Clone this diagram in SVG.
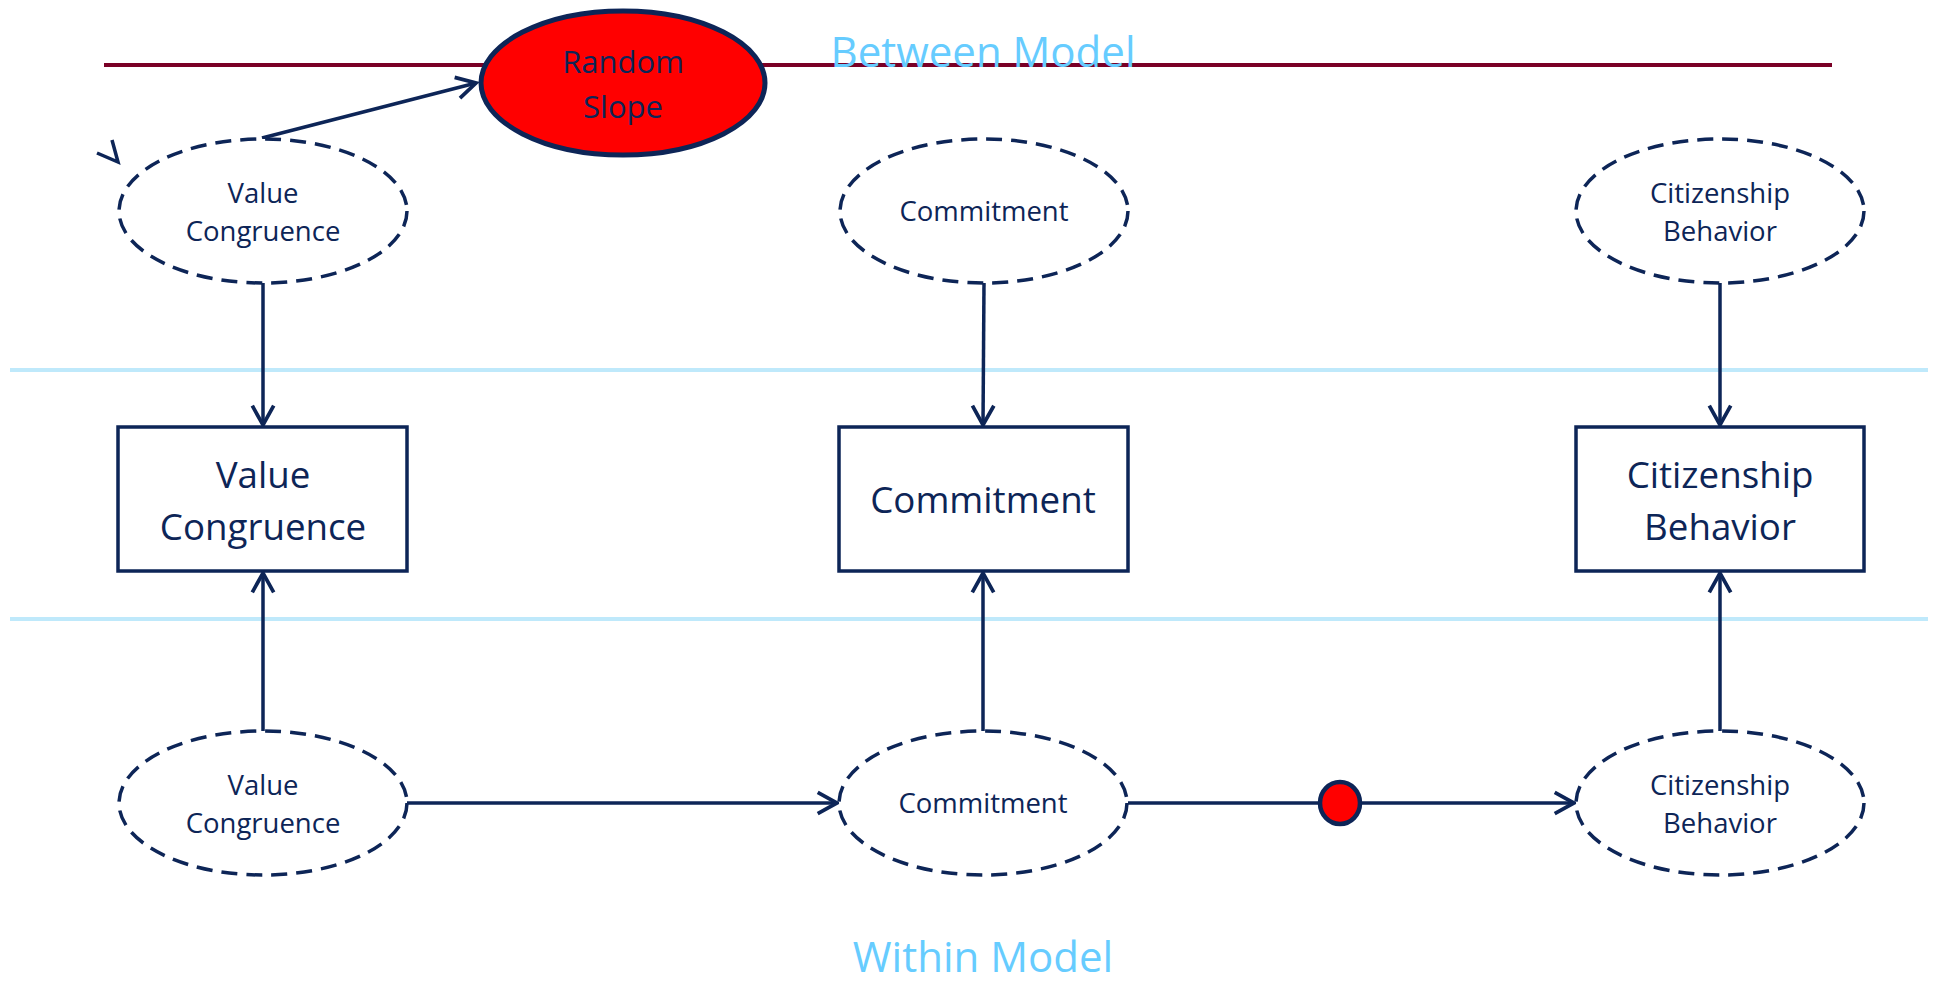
<svg xmlns="http://www.w3.org/2000/svg" width="1937" height="982" viewBox="0 0 1937 982">
  <style>
    .lbl { font-family: "Open Sans", "Liberation Sans", sans-serif; fill: #0D2557; text-anchor: middle; }
    .small { font-size: 27.5px; }
    .big { font-size: 36.7px; }
    .latent { fill: #FFFFFF; stroke: #0D2557; stroke-width: 3.5; stroke-dasharray: 16 9; }
    .box { fill: #FFFFFF; stroke: #0D2557; stroke-width: 3.5; }
    .conn { stroke: #0D2557; stroke-width: 3.5; fill: none; }
    .band { stroke: #BFE9FB; stroke-width: 4; }
    .title { font-family: "Open Sans", "Liberation Sans", sans-serif; font-size: 42px; fill: #66CCFF; text-anchor: middle; }
  </style>
  <defs>
    <marker id="open" markerUnits="userSpaceOnUse" markerWidth="30" markerHeight="30" viewBox="-22 -14 26 28" refX="0" refY="0" orient="auto">
      <path d="M-18,-10 L0,0 L-18,10" fill="none" stroke="#0D2557" stroke-width="3.5" stroke-linejoin="miter"/>
    </marker>
  </defs>

  <rect width="1937" height="982" fill="#FFFFFF"/>

  <!-- level separators -->
  <line class="band" x1="10" y1="370" x2="1928" y2="370"/>
  <line class="band" x1="10" y1="619" x2="1928" y2="619"/>
  <line x1="104" y1="65" x2="1832" y2="65" stroke="#7A0026" stroke-width="4"/>

  <!-- connectors -->
  <g id="connectors">
    <line class="conn" x1="263" y1="283" x2="263" y2="425" marker-end="url(#open)"/>
    <line class="conn" x1="984" y1="283" x2="983" y2="425" marker-end="url(#open)"/>
    <line class="conn" x1="1720" y1="283" x2="1720" y2="425" marker-end="url(#open)"/>
    <line class="conn" x1="263" y1="731" x2="263" y2="573" marker-end="url(#open)"/>
    <line class="conn" x1="983" y1="731" x2="983" y2="573" marker-end="url(#open)"/>
    <line class="conn" x1="1720" y1="731" x2="1720" y2="573" marker-end="url(#open)"/>
    <line class="conn" x1="407" y1="803" x2="837" y2="803" marker-end="url(#open)"/>
    <line class="conn" x1="1128" y1="803" x2="1574" y2="803" marker-end="url(#open)"/>
    <line class="conn" x1="262" y1="138" x2="476" y2="83" marker-end="url(#open)"/>
    <polyline class="conn" points="97,153 118,162 112,140"/>
  </g>

  <!-- random slope -->
  <g id="random-slope">
    <ellipse cx="623" cy="83" rx="142" ry="72" fill="#FF0000" stroke="#0D2557" stroke-width="5"/>
    <text class="lbl" x="623" y="73" font-size="31">Random</text>
    <text class="lbl" x="623" y="118" font-size="31">Slope</text>
  </g>
  <g id="slope-dot">
    <ellipse cx="1340" cy="803" rx="20" ry="21" fill="#FF0000" stroke="#0D2557" stroke-width="4.5"/>
  </g>

  <!-- between-level latent variables -->
  <g id="vc-between">
    <ellipse class="latent" cx="263" cy="211" rx="144" ry="72"/>
    <text class="lbl small" x="263" y="203">Value</text>
    <text class="lbl small" x="263" y="241">Congruence</text>
  </g>
  <g id="commit-between">
    <ellipse class="latent" cx="984" cy="211" rx="144" ry="72"/>
    <text class="lbl small" x="984" y="221">Commitment</text>
  </g>
  <g id="cb-between">
    <ellipse class="latent" cx="1720" cy="211" rx="144" ry="72"/>
    <text class="lbl small" x="1720" y="203">Citizenship</text>
    <text class="lbl small" x="1720" y="241">Behavior</text>
  </g>

  <!-- observed variables -->
  <g id="vc-observed">
    <rect class="box" x="118" y="427" width="289" height="144"/>
    <text class="lbl big" x="263" y="488">Value</text>
    <text class="lbl big" x="263" y="540">Congruence</text>
  </g>
  <g id="commit-observed">
    <rect class="box" x="839" y="427" width="289" height="144"/>
    <text class="lbl big" x="983" y="513">Commitment</text>
  </g>
  <g id="cb-observed">
    <rect class="box" x="1576" y="427" width="288" height="144"/>
    <text class="lbl big" x="1720" y="488">Citizenship</text>
    <text class="lbl big" x="1720" y="540">Behavior</text>
  </g>

  <!-- within-level latent variables -->
  <g id="vc-within">
    <ellipse class="latent" cx="263" cy="803" rx="144" ry="72"/>
    <text class="lbl small" x="263" y="795">Value</text>
    <text class="lbl small" x="263" y="833">Congruence</text>
  </g>
  <g id="commit-within">
    <ellipse class="latent" cx="983" cy="803" rx="144" ry="72"/>
    <text class="lbl small" x="983" y="813">Commitment</text>
  </g>
  <g id="cb-within">
    <ellipse class="latent" cx="1720" cy="803" rx="144" ry="72"/>
    <text class="lbl small" x="1720" y="795">Citizenship</text>
    <text class="lbl small" x="1720" y="833">Behavior</text>
  </g>

  <!-- level titles -->
  <text class="title" x="983" y="67">Between Model</text>
  <text class="title" x="983" y="972">Within Model</text>
</svg>
